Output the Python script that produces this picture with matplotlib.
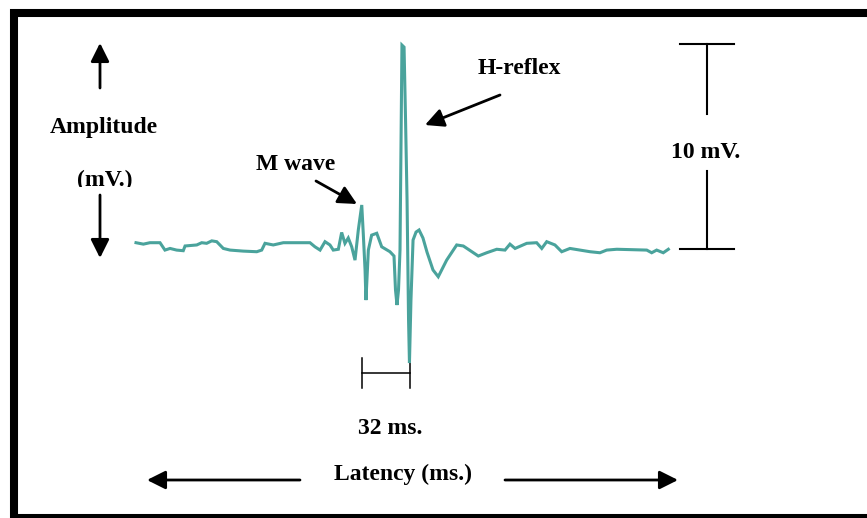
"""
H-reflex recording: M wave and H-reflex on one EMG trace,
with 10 mV and 32 ms scale bars.
"""

import matplotlib
matplotlib.use('Agg')
import matplotlib.pyplot as plt
from matplotlib.patches import Rectangle
from matplotlib.transforms import Bbox

# EMG trace (time in ms, amplitude in mV)
time_ms = [0, 4.9, 9.3, 16, 19.3, 22.7, 27.1, 31.5, 32.7, 40.5, 43.8, 47.1,
           50.5, 53.8, 58.2, 62.7, 71.5, 80.5, 83.8, 86, 91.5, 98.2, 116,
           119.3, 122.7, 126, 129.3, 131.5, 134.9, 137.1, 139.3, 141.5, 143.8,
           146, 148.2, 150.5, 151.5, 152.7, 153.3, 154.9, 157.1, 160.5, 163.8,
           169.3, 172, 173, 174, 175, 176, 177.3, 178.7, 179.7, 180.7, 181.7,
           182.3, 183.3, 184.7, 186.7, 188.7, 191.3, 194, 198, 201.5, 207.1,
           213.8, 218.2, 228.2, 233.8, 240.5, 246, 249.3, 252.7, 260.5, 267.1,
           270.5, 273.8, 279.3, 283.8, 289.3, 296, 302.7, 309.3, 313.8, 320.5,
           340.5, 343.8, 347.1, 351.5, 354.9]
amp_mv = [0.31, 0.24, 0.31, 0.31, -0.05, 0.03, -0.05, -0.08, 0.15, 0.2, 0.31,
          0.28, 0.4, 0.36, 0.03, -0.05, -0.1, -0.13, -0.05, 0.28, 0.2, 0.31,
          0.31, 0.11, -0.05, 0.36, 0.2, -0.05, -0.01, 0.81, 0.28, 0.54, 0.11,
          -0.54, 0.93, 2.15, 0.77, -1.02, -2.49, -0.05, 0.68, 0.77, 0.11,
          -0.13, -0.34, -2.0, -2.73, -2.0, -0.05, 9.95, 9.85, 6.29, 2.39,
          -3.46, -5.56, -2.49, 0.44, 0.83, 0.93, 0.54, -0.15, -1.02, -1.35,
          -0.54, 0.2, 0.15, -0.34, -0.18, -0.01, -0.05, 0.24, 0.03, 0.28,
          0.31, 0.03, 0.36, 0.2, -0.13, 0.03, -0.05, -0.13, -0.18, -0.05,
          -0.01, -0.05, -0.18, -0.05, -0.18, -0.01]

# scale bars
amp_bar_mv = 10
lat_bar_ms = 32
m_wave_peak_ms = 150.5

W, H = 867, 518
fig = plt.figure(figsize=(W / 100, H / 100), dpi=100)
fig.patch.set_facecolor('white')

# signal axes in ms / mV
ax = fig.add_axes([0, 0, 1, 1])
ax.set_xlim(-90.67, 487.33)
ax.set_ylim(-13.12, 12.15)
ax.axis('off')
ax.patch.set_alpha(0)

ax.plot(time_ms, amp_mv, color='#4aa39c', linewidth=2.2,
        solid_joinstyle='miter', zorder=3)

# 10 mV bar (gap left for its label)
bar_t = 380.5
ax.plot([bar_t, bar_t], [0, 3.8], color='black', lw=1.5)
ax.plot([bar_t, bar_t], [6.6, amp_bar_mv], color='black', lw=1.5)
ax.plot([bar_t - 18, bar_t + 18], [0, 0], color='black', lw=1.5)
ax.plot([bar_t - 18, bar_t + 18], [amp_bar_mv, amp_bar_mv], color='black', lw=1.5)

# 32 ms bar under M wave -> H-reflex
t0, t1 = m_wave_peak_ms, m_wave_peak_ms + lat_bar_ms
ax.plot([t0, t1], [-6.05, -6.05], color='black', lw=1.1)
ax.plot([t0, t0], [-5.3, -6.8], color='black', lw=1.1)
ax.plot([t1, t1], [-5.3, -6.8], color='black', lw=1.1)

# overlay in pixel coords for the frame, labels and arrows
ov = fig.add_axes([0, 0, 1, 1])
ov.set_xlim(0, W)
ov.set_ylim(H, 0)
ov.axis('off')
ov.patch.set_alpha(0)

# start the path at the (off-screen) bottom-left so the top-left corner is mitered
ov.add_patch(Rectangle((14, 518), 1000, -505, fill=False, edgecolor='black',
                       linewidth=5.8, joinstyle='miter', clip_on=False))

font = dict(family=['Liberation Serif', 'DejaVu Serif'], fontweight='bold',
            fontsize=17, ha='center', va='center', color='black')

ov.text(104, 128, 'Amplitude', **font)
mv = ov.text(105, 180, '(mV.)', **font)
mv.set_clip_box(Bbox([[0, H - 187], [W, H]]))
mv.set_clip_on(True)
ov.text(296, 164, 'M wave', **font)
ov.text(519, 69, 'H-reflex', **font)
ov.text(706, 153, '10 mV.', **font)
ov.text(390, 429, '32 ms.', **font)
ov.text(403, 474, 'Latency (ms.)', **font)

arrow = dict(arrowstyle='-|>,head_length=0.8,head_width=0.4', color='black',
             lw=2, mutation_scale=14, shrinkA=0, shrinkB=0)
for tail, tip in [((100, 88), (100, 43)), ((100, 195), (100, 258)),
                  ((300, 480), (147, 480)), ((505, 480), (678, 480)),
                  ((316, 181), (357, 204)), ((500, 95), (425, 125))]:
    ov.annotate('', xy=tip, xytext=tail, arrowprops=arrow)

plt.savefig('out.png', dpi=100)
